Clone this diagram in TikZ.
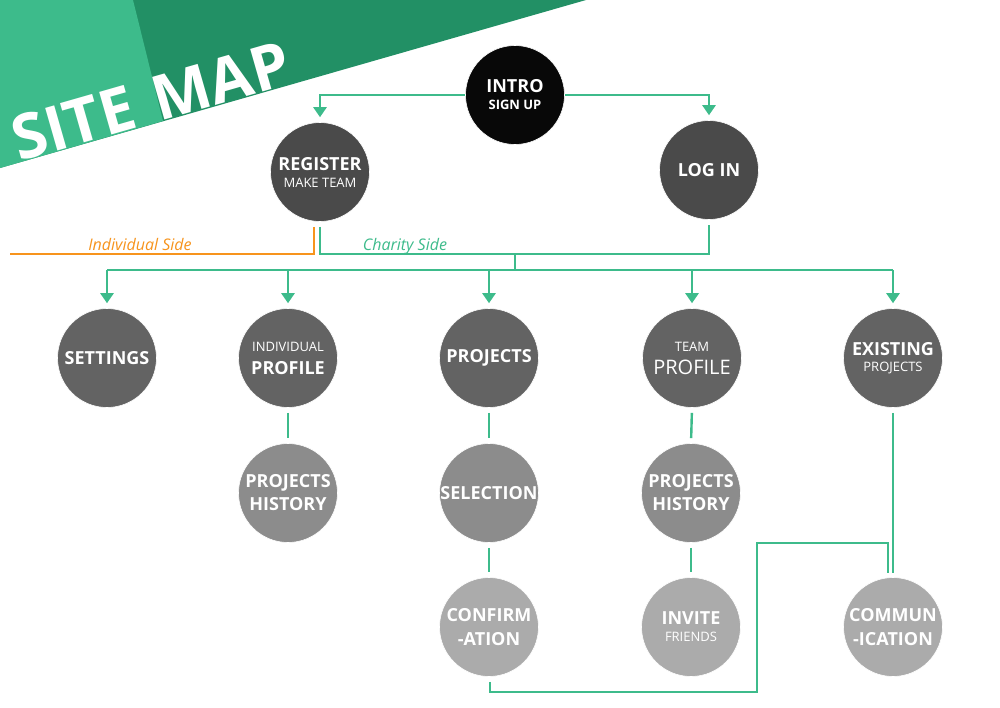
\documentclass[tikz,border=0pt]{standalone}
\usepackage{fontspec}
\setmainfont{Open Sans}
\usetikzlibrary{arrows.meta,calc}
\definecolor{lightgreen}{HTML}{3DBB8B}
\definecolor{darkgreen}{HTML}{229065}
\definecolor{linegreen}{HTML}{3DBB8B}
\definecolor{sideorange}{HTML}{F7941D}
\definecolor{cblack}{HTML}{080808}
\definecolor{cone}{HTML}{4A4A4A}
\definecolor{ctwo}{HTML}{636363}
\definecolor{cthree}{HTML}{8C8C8C}
\definecolor{cfour}{HTML}{ABABAB}
\newcommand{\bigb}{\fontsize{18}{22}\selectfont\bfseries}
\newcommand{\smallr}{\fontsize{13}{22}\selectfont\mdseries}
\newcommand{\smallb}{\fontsize{13}{22}\selectfont\bfseries}
\begin{document}
\begin{tikzpicture}[x=1pt,y=-1pt,
  circ/.style={circle, minimum size=99pt, inner sep=0pt, text=white, align=center, draw=white, line width=0.6pt, font=\fontsize{18}{22}\selectfont},
  cz/.style={circ, fill=cblack},
  ca/.style={circ, fill=cone},
  cb/.style={circ, fill=ctwo},
  cc/.style={circ, fill=cthree},
  cd/.style={circ, fill=cfour},
  conn/.style={draw=linegreen, line width=2.4pt},
  arr/.style={conn, -{Triangle[width=13pt,length=10pt]}, shorten >=5pt},
  gap/.style={conn, shorten <=5pt, shorten >=5pt},
  sidelabel/.style={font=\fontsize{16}{18}\selectfont\itshape, anchor=base, inner sep=0pt}
]
\useasboundingbox (0,0) rectangle (1000,707);
\fill[white] (0,0) rectangle (1000,707);
% banner
\fill[darkgreen] (0,0) -- (586,0) -- (0,168) -- cycle;
\fill[lightgreen] (0,0) -- (133,0) -- (163,121) -- (0,168) -- cycle;
\node[text=white, font=\fontsize{62}{68}\selectfont\bfseries, rotate=16, anchor=base west, inner sep=0pt] (title) at (19,162) {SITE\hspace{21pt}MAP};

% nodes
\node[cz] (intro) at (515,95) {\bigb INTRO\\[-5pt]\smallb SIGN UP};
\node[ca] (reg) at (320,172) {\bigb REGISTER\\[-5pt]\smallr MAKE TEAM};
\node[ca] (login) at (709,170) {\bigb LOG IN};

\node[cb] (settings) at (107,358) {\bigb SETTINGS};
\node[cb] (iprof) at (288,358) {\smallr INDIVIDUAL\\[1pt]\bigb PROFILE};
\node[cb] (proj) at (489,358) {\bigb PROJECTS};
\node[cb] (tprof) at (692,358) {\smallr TEAM\\[1pt]\fontsize{20}{22}\selectfont\mdseries PROFILE};
\node[cb] (exist) at (893,358) {\bigb EXISTING\\[-6pt]\smallr PROJECTS};

\node[cc] (ihist) at (288,493) {\bigb PROJECTS\\[1pt]\bigb HISTORY};
\node[cc] (sel) at (489,493) {\bigb SELECTION};
\node[cc] (thist) at (691,493) {\bigb PROJECTS\\[1pt]\bigb HISTORY};

\node[cd] (conf) at (489,627) {\bigb CONFIRM\\[2pt]\bigb -ATION};
\node[cd] (invite) at (691,627) {\bigb INVITE\\[-5pt]\smallr FRIENDS};
\node[cd] (comm) at (893,627) {\bigb COMMUN\\[2pt]\bigb -ICATION};

% top connectors
\draw[arr] (intro.west) -| (reg.north);
\draw[arr] (intro.east) -| (login.north);

% side split
\coordinate (orangeend) at (10,254);
\coordinate (split) at (515,254);
\coordinate (bus) at (515,270);
\draw[draw=sideorange, line width=2.4pt] ($(reg.south)+(-6,5)$) |- (orangeend);
\draw[conn] ($(reg.south)+(0,5)$) |- (split) -| ($(login.south)+(0,5)$);
\draw[conn] (split) -- (bus);
\draw[conn] (settings.north |- bus) -- (exist.north |- bus);
\foreach \n in {settings,iprof,proj,tprof,exist}
  \draw[arr] (\n.north |- bus) -- (\n.north);

\node[sidelabel, text=sideorange] (indlabel) at (140,250) {Individual Side};
\node[sidelabel, text=linegreen] (charlabel) at (405,250) {Charity Side};

% vertical links
\draw[gap] (iprof.south) -- (ihist.north);
\draw[gap] (proj.south) -- (sel.north);
\draw[gap] (sel.south) -- (conf.north);
\draw[gap] (tprof.south) -- (thist.north);
\draw[gap] (thist.south) -- (invite.north);
\draw[gap] (exist.south) -- ($(comm.north)+(0,1)$);

% confirmation to communication
\coordinate (c1) at (757,692);
\coordinate (c2) at (757,543);
\draw[conn] ($(conf.south)+(1,5)$) |- (c1) -- (c2) -| ($(comm.north)+(-5,-4)$);
\end{tikzpicture}
\end{document}
